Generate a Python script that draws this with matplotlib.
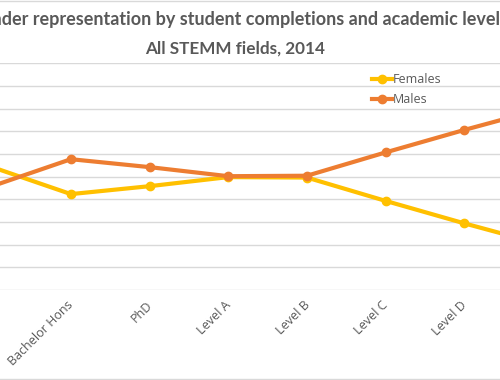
import matplotlib
matplotlib.use("Agg")
import matplotlib.pyplot as plt
from matplotlib.lines import Line2D
from matplotlib.transforms import ScaledTranslation

categories = ["Bachelor Pass", "Bachelor Hons", "PhD", "Level A", "Level B",
              "Level C", "Level D", "Level E"]
females = [54.2, 42.3, 45.8, 49.8, 49.6, 39.3, 29.4, 20.0]
males = [45.8, 57.7, 54.2, 50.2, 50.4, 60.7, 70.6, 80.0]
yticks = list(range(0, 101, 10))

title1 = "Gender representation by student completions and academic level,"
title2 = "All STEMM fields, 2014"

W, H = 500, 380
fig = plt.figure(figsize=(5, 3.8), dpi=100)
fig.patch.set_facecolor("white")

# plot area extends beyond the (cropped) figure
left_px, right_px = -47.1, 582.3
bottom_px, top_px = 290.0, 63.3
ax = fig.add_axes([left_px / W, (H - bottom_px) / H,
                   (right_px - left_px) / W, (bottom_px - top_px) / H])
ax.set_xlim(-0.5, len(categories) - 0.5)
ax.set_ylim(0, 100)
for s in ax.spines.values():
    s.set_visible(False)
ax.set_yticks(yticks)
ax.yaxis.grid(True, color="#d9d9d9", linewidth=1.0)
ax.set_axisbelow(True)
ax.tick_params(axis="y", left=False, labelleft=False)
ax.tick_params(axis="x", length=0, pad=6)

x = list(range(len(categories)))
fcol, mcol = "#FFC000", "#ED7D31"
ax.plot(x, females, color=fcol, lw=3.0, marker="o", ms=6, label="Females",
        solid_capstyle="round", zorder=3)
ax.plot(x, males, color=mcol, lw=3.0, marker="o", ms=6, label="Males",
        solid_capstyle="round", zorder=3)

ax.set_xticks(x)
ax.set_xticklabels(categories, rotation=45, ha="right", va="top",
                   rotation_mode="anchor", fontsize=9, color="#595959",
                   family="Open Sans")
shift = ScaledTranslation(-4 / 100, 0, fig.dpi_scale_trans)
for lbl in ax.get_xticklabels():
    lbl.set_transform(lbl.get_transform() + shift)

fig.text(0.474, 1 - 20 / H, title1, ha="center", va="center", fontsize=13.0,
         fontweight="bold", color="#595959", family="Lato")
fig.text(0.47, 1 - 48.5 / H, title2, ha="center", va="center", fontsize=12.3,
         fontweight="bold", color="#595959", family="Lato")

handles = [Line2D([], [], color=fcol, lw=3, marker="o", ms=6),
           Line2D([], [], color=mcol, lw=3, marker="o", ms=6)]
fig.legend(handles, ["Females", "Males"], loc="upper left",
           bbox_to_anchor=(372 / W, 1 - 73 / H), frameon=False,
           prop={"family": "Open Sans", "size": 9}, labelcolor="#595959",
           handlelength=1.6, handletextpad=0.1, labelspacing=0.55,
           borderpad=0, borderaxespad=0)

# chart border (top and bottom visible in the crop)
fig.add_artist(Line2D([0, 1], [1 - 0.5 / H, 1 - 0.5 / H], transform=fig.transFigure,
                      color="#d9d9d9", lw=1))
fig.add_artist(Line2D([0, 1], [1.0 / H, 1.0 / H],
                      transform=fig.transFigure, color="#d9d9d9", lw=1))

fig.savefig("out.png", dpi=100)
